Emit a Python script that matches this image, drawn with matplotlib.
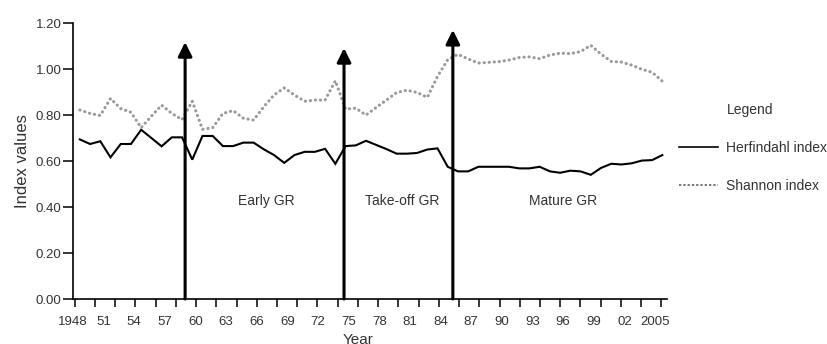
"""Herfindahl and Shannon index values, 1948-2005, with growth-regime arrows."""

import matplotlib

matplotlib.use("Agg")

import matplotlib.pyplot as plt
import numpy as np
from matplotlib import font_manager
from matplotlib.lines import Line2D


# --- data ---
YEARS = list(range(1948, 2006))
HERFINDAHL = [
    0.694, 0.674, 0.686, 0.616, 0.674, 0.674, 0.736, 0.700, 0.664, 0.703,
    0.703, 0.606, 0.709, 0.709, 0.665, 0.665, 0.680, 0.680, 0.651, 0.626,
    0.592, 0.626, 0.640, 0.640, 0.653, 0.588, 0.665, 0.668, 0.688, 0.670,
    0.652, 0.632, 0.632, 0.635, 0.650, 0.655, 0.575, 0.555, 0.555, 0.575,
    0.575, 0.575, 0.575, 0.568, 0.568, 0.575, 0.555, 0.549, 0.558, 0.555,
    0.540, 0.570, 0.588, 0.585, 0.590, 0.602, 0.604, 0.626,
]
SHANNON = [
    0.822, 0.807, 0.798, 0.872, 0.828, 0.812, 0.745, 0.795, 0.843, 0.807,
    0.780, 0.860, 0.738, 0.745, 0.807, 0.819, 0.786, 0.778, 0.836, 0.887,
    0.918, 0.887, 0.860, 0.865, 0.865, 0.949, 0.826, 0.830, 0.800, 0.833,
    0.865, 0.898, 0.908, 0.898, 0.877, 0.968, 1.041, 1.064, 1.044, 1.026,
    1.029, 1.032, 1.039, 1.050, 1.053, 1.045, 1.061, 1.069, 1.067, 1.076,
    1.103, 1.065, 1.033, 1.030, 1.017, 0.999, 0.986, 0.947,
]
SERIES_NAMES = ["Herfindahl index", "Shannon index"]

# regime boundaries (arrow position, arrow tip height)
BREAK_YEARS = [1958.3, 1973.85, 1984.5]
BREAK_TOPS = [1.117, 1.091, 1.170]
REGIME_LABELS = ["Early GR", "Take-off GR", "Mature GR"]
REGIME_X = [1966.2, 1979.5, 1995.3]
REGIME_Y = 0.426

YTICKS = [0.0, 0.2, 0.4, 0.6, 0.8, 1.0, 1.2]
XLABEL_YEARS = list(range(1948, 2006, 3))
XLABEL_TEXT = ["1948", "51", "54", "57", "60", "63", "66", "69", "72", "75",
               "78", "81", "84", "87", "90", "93", "96", "99", "02", "2005"]

TEXT_COLOR = "#333333"
SHANNON_COLOR = "#9a9a9a"


def pick_font(*names: str) -> str:
    for name in names:
        try:
            font_manager.findfont(name, fallback_to_default=False)
            return name
        except Exception:
            continue
    return "DejaVu Sans"


FONT = pick_font("Liberation Sans", "Arial")
plt.rcParams["font.family"] = [FONT, "DejaVu Sans"]


def main() -> None:
    fig = plt.figure(figsize=(8.28, 3.44), dpi=100)
    ax = fig.add_axes([0.0878, 0.1308, 0.8056 - 0.0878, 0.933 - 0.1308])

    ax.plot(YEARS, HERFINDAHL, color="black", lw=1.5, solid_joinstyle="miter")
    ax.plot(YEARS, SHANNON, color=SHANNON_COLOR, lw=2.2,
            linestyle=(0, (0.1, 1.55)), dash_capstyle="round")

    # regime arrows
    for x, top in zip(BREAK_YEARS, BREAK_TOPS):
        ax.annotate(
            "", xy=(x, top), xytext=(x, 0.0),
            arrowprops=dict(arrowstyle="-|>", lw=2.2, color="black",
                            mutation_scale=21, shrinkA=0, shrinkB=0),
            annotation_clip=False,
        )

    for label, x in zip(REGIME_LABELS, REGIME_X):
        ax.text(x, REGIME_Y, label, ha="center", va="center",
                fontsize=10, color=TEXT_COLOR)

    ax.set_xlim(1947.48, 2005.46)
    ax.set_ylim(0, 1.2)

    ax.set_yticks(YTICKS)
    ax.set_yticklabels([f"{v:.2f}" for v in YTICKS], fontsize=9.5, color=TEXT_COLOR)

    # tick marks every ~2 years, labels every 3 years
    ax.set_xticks(np.linspace(1947.5, 2004.9, 30))
    ax.set_xticklabels([])
    ax.set_xticks([y - 0.7 for y in XLABEL_YEARS], minor=True)
    ax.set_xticklabels(XLABEL_TEXT, minor=True, fontsize=9.5, color=TEXT_COLOR)
    ax.tick_params(axis="x", which="major", direction="out", length=6, width=1.1)
    ax.tick_params(axis="x", which="minor", length=0, pad=12)
    ax.tick_params(axis="y", direction="out", length=7, width=1.1, pad=1)

    for side in ("top", "right"):
        ax.spines[side].set_visible(False)
    for side in ("left", "bottom"):
        ax.spines[side].set_linewidth(1.2)

    ax.set_ylabel("Index values", fontsize=12, color=TEXT_COLOR, labelpad=4)
    ax.set_xlabel("Year", fontsize=11, color=TEXT_COLOR)
    ax.xaxis.set_label_coords((358 - 72.7) / (667 - 72.7), -0.122)

    # legend
    fig.text(727 / 828, 1 - 110 / 344, "Legend", fontsize=10, color=TEXT_COLOR,
             ha="left", va="center")
    handles = [
        Line2D([], [], color="black", lw=1.2),
        Line2D([], [], color="#777777", lw=1.4, linestyle=(0, (1.2, 1.0))),
    ]
    fig.legend(
        handles, SERIES_NAMES, loc="upper left",
        bbox_to_anchor=(679 / 828, 1 - 141 / 344), frameon=False,
        fontsize=10, handlelength=2.8, handletextpad=0.55, labelspacing=1.75,
        labelcolor=TEXT_COLOR, borderpad=0, borderaxespad=0,
    )

    fig.savefig("out.png", dpi=100, facecolor="white")
    plt.close(fig)


if __name__ == "__main__":
    main()
